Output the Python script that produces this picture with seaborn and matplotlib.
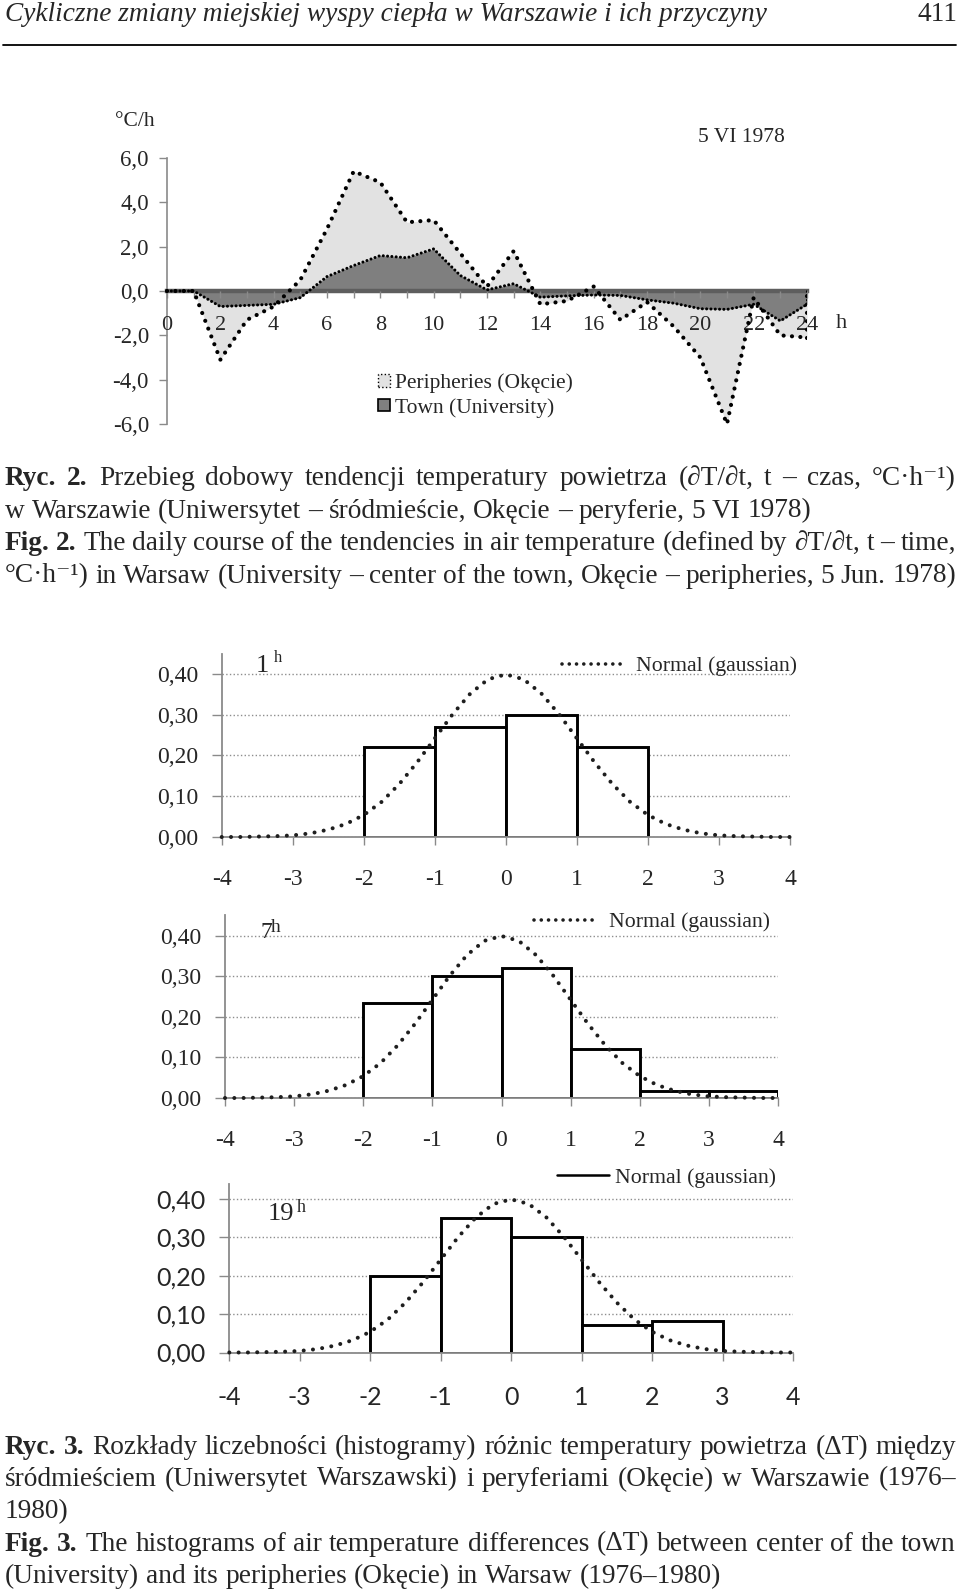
import matplotlib
matplotlib.use("Agg")
import matplotlib.pyplot as plt
import seaborn as sns
from matplotlib.patches import Patch
from matplotlib.lines import Line2D

# ---------------- data ----------------
hours = list(range(25))
peripheries = [0.0, 0.0, -3.1, -1.3, -0.7, 0.5, 2.8, 5.4, 4.9, 3.1, 3.2, 1.7, 0.2,
               1.8, -0.6, -0.45, 0.2, -1.3, -0.5, -1.6, -3.0, -6.0, -0.3, -2.0, -2.1]
town = [0.0, 0.0, -0.7, -0.65, -0.6, -0.3, 0.65, 1.15, 1.6, 1.5, 1.9, 0.7, 0.05,
        0.33, -0.28, -0.22, -0.18, -0.2, -0.4, -0.55, -0.8, -0.83, -0.6, -1.35, -0.6]
top_yticks = [-6, -4, -2, 0, 2, 4, 6]
top_ytick_labels = ["-6,0", "-4,0", "-2,0", "0,0", "2,0", "4,0", "6,0"]
top_xticks = list(range(0, 25, 2))
top_xtick_labels = [str(h) for h in top_xticks]
top_legend_labels = ["Peripheries (Okęcie)", "Town (University)"]

h1_left = [-2, -1, 0, 1]
h1_freq = [0.22, 0.27, 0.30, 0.22]
h7_left = [-2, -1, 0, 1, 2, 3]
h7_freq = [0.235, 0.30, 0.32, 0.12, 0.018, 0.018]
h19_left = [-2, -1, 0, 1, 2]
h19_freq = [0.20, 0.35, 0.30, 0.072, 0.082]

gauss_x = [-4.0, -3.75, -3.5, -3.25, -3.0, -2.75, -2.5, -2.25, -2.0, -1.75, -1.5,
           -1.25, -1.0, -0.75, -0.5, -0.25, 0.0, 0.25, 0.5, 0.75, 1.0, 1.25, 1.5,
           1.75, 2.0, 2.25, 2.5, 2.75, 3.0, 3.25, 3.5, 3.75, 4.0]
gauss_y = [0.000, 0.000, 0.001, 0.002, 0.004, 0.009, 0.018, 0.032, 0.054, 0.086, 0.130,
           0.183, 0.242, 0.301, 0.352, 0.387, 0.399, 0.387, 0.352, 0.301, 0.242, 0.183, 0.130,
           0.086, 0.054, 0.032, 0.018, 0.009, 0.004, 0.002, 0.001, 0.000, 0.000]
hist_yticks = [0.0, 0.1, 0.2, 0.3, 0.4]
hist_ytick_labels = ["0,00", "0,10", "0,20", "0,30", "0,40"]
hist_xticks = [-4, -3, -2, -1, 0, 1, 2, 3, 4]
hist_xtick_labels = ["-4", "-3", "-2", "-1", "0", "1", "2", "3", "4"]
hist_titles = ["1", "7", "19"]
normal_label = "Normal (gaussian)"

header_title = "Cykliczne zmiany miejskiej wyspy ciepła w Warszawie i ich przyczyny"
page_number = "411"
caption2 = [
    [("Ryc. 2.", "bold"), ("Przebieg dobowy tendencji temperatury powietrza (∂T/∂t, t – czas, °C·h⁻¹)", "normal")],
    [("w Warszawie (Uniwersytet – śródmieście, Okęcie – peryferie, 5 VI 1978)", "normal")],
    [("Fig. 2.", "bold"), ("The daily course of the tendencies in air temperature (defined by ∂T/∂t, t – time,", "normal")],
    [("°C·h⁻¹) in Warsaw (University – center of the town, Okęcie – peripheries, 5 Jun. 1978)", "normal")],
]
caption3 = [
    [("Ryc. 3.", "bold"), ("Rozkłady liczebności (histogramy) różnic temperatury powietrza (ΔT) między", "normal")],
    [("śródmieściem (Uniwersytet Warszawski) i peryferiami (Okęcie) w Warszawie (1976–", "normal")],
    [("1980)", "normal")],
    [("Fig. 3.", "bold"), ("The histograms of air temperature differences (ΔT) between center of the town", "normal")],
    [("(University) and its peripheries (Okęcie) in Warsaw (1976–1980)", "normal")],
]

# ---------------- style ----------------
sns.set_style("white")
SERIF = ["Liberation Serif", "DejaVu Serif"]
SANS = ["Lato", "DejaVu Sans"]
plt.rcParams["font.family"] = SERIF

W, H = 960, 1595
fig = plt.figure(figsize=(W / 100, H / 100), dpi=100)
fig.patch.set_facecolor("white")


def add_ax(l, r, t, b):
    return fig.add_axes([l / W, 1 - b / H, (r - l) / W, (b - t) / H])


def ftext(x, y, s, **kw):
    return fig.text(x / W, 1 - y / H, s, **kw)


LIGHT = "#e2e2e2"
DARK = "#7f7f7f"
AXC = "#8a8a8a"
DOTS = (0, (0.01, 2.0))

# ---------------- top chart ----------------
ax = add_ax(167, 807, 158, 424)
ax.set_axisbelow(False)
ax.fill_between(hours, 0, peripheries, color=LIGHT, lw=0, zorder=1)
ax.fill_between(hours, 0, town, color=DARK, lw=0, zorder=1.1)
sns.lineplot(x=hours, y=peripheries, ax=ax, color="black", lw=3.0, linestyle=DOTS,
             dash_capstyle="round", zorder=3, clip_on=False)
ax.plot([hours[-1], hours[-1]], [peripheries[-1], 0], color="black", lw=3.0,
        linestyle=DOTS, dash_capstyle="round", zorder=3)
sns.lineplot(x=hours, y=town, ax=ax, color="black", lw=2.2, linestyle=(0, (0.01, 1.4)),
             dash_capstyle="round", zorder=3.2, clip_on=False)
ax.plot([hours[-1], hours[-1]], [town[-1], 0], color="black", lw=2.2,
        linestyle=(0, (0.01, 1.4)), dash_capstyle="round", zorder=3.2)
ax.set_xlim(0, 24)
ax.set_ylim(-6, 6)
ax.set_xlabel("")
ax.set_ylabel("")
for s in ["top", "right"]:
    ax.spines[s].set_visible(False)
ax.spines["left"].set_color(AXC)
ax.spines["left"].set_linewidth(1.2)
ax.spines["bottom"].set_position(("data", 0))
ax.spines["bottom"].set_color("#5e5e5e")
ax.spines["bottom"].set_linewidth(3.2)
ax.spines["bottom"].set_zorder(2.5)
ax.set_xticks(top_xticks)
ax.set_xticklabels(top_xtick_labels)
ax.set_xticks(list(range(1, 25, 2)), minor=True)
ax.tick_params(axis="x", which="both", direction="out", length=5, width=1, color=AXC,
               pad=13, labelsize=16, bottom=True)
ax.set_yticks(top_yticks)
ax.set_yticklabels(top_ytick_labels)
ax.tick_params(axis="y", direction="out", length=6, width=1, color=AXC, pad=7,
               labelsize=16.5, left=True)
ax.xaxis.set_zorder(2.6)
ax.patch.set_alpha(0)

ftext(135, 122, "°C/h", fontsize=15.5, ha="center", va="center")
ftext(741, 137, "5 VI 1978", fontsize=15.5, ha="center", va="center")
ftext(841, 323, "h", fontsize=16, ha="center", va="center")

handles = [Patch(facecolor=LIGHT, edgecolor="black", linestyle=":", linewidth=1.0),
           Patch(facecolor=DARK, edgecolor="black", linewidth=1.2)]
ax.legend(handles, top_legend_labels, loc="center left",
          bbox_to_anchor=(378 / W, 1 - 395.5 / H), bbox_transform=fig.transFigure,
          frameon=False, fontsize=15.5, handlelength=0.55, handleheight=0.55,
          handletextpad=0.25, labelspacing=0.22, borderpad=0, borderaxespad=0)

# ---------------- histograms ----------------
panels = [
    dict(l=221.7, r=790, t=653.6, b=837, ymax=0.45, leg_x=562, leg_y=666, leg_len=2.8,
         leg_pad=0.6, solid=False, lab_family=SERIF, lab_size=17, xpad=17, ypad=10,
         title_xy=(262, 666), title_size=19, h_xy=(278, 658), h_size=12,
         left_edges=h1_left, freqs=h1_freq, title=hist_titles[0]),
    dict(l=225, r=778, t=915.3, b=1098, ymax=0.45, leg_x=534, leg_y=922, leg_len=2.8,
         leg_pad=0.65, solid=False, lab_family=SERIF, lab_size=17, xpad=17, ypad=10,
         title_xy=(266.5, 932), title_size=17, h_xy=(276, 928), h_size=14,
         left_edges=h7_left, freqs=h7_freq, title=hist_titles[1]),
    dict(l=229.3, r=793, t=1183.6, b=1352.5, ymax=0.44, leg_x=557, leg_y=1177.6, leg_len=2.4,
         leg_pad=0.25, solid=True, lab_family=SANS, lab_size=18, xpad=18, ypad=10,
         title_xy=(280.7, 1214), title_size=19, h_xy=(301, 1207), h_size=13,
         left_edges=h19_left, freqs=h19_freq, title=hist_titles[2]),
]

for p in panels:
    hx = add_ax(p["l"], p["r"], p["t"], p["b"])
    edges = list(p["left_edges"]) + [p["left_edges"][-1] + 1]
    centers = [e + 0.5 for e in p["left_edges"]]
    sns.histplot(x=centers, weights=p["freqs"], bins=edges, ax=hx, color="white",
                 edgecolor="black", linewidth=2.1, alpha=1, zorder=2)
    sns.lineplot(x=gauss_x, y=gauss_y, ax=hx, color="#1e1e1e", lw=2.9,
                 linestyle=(0, (0.01, 2.3)), dash_capstyle="round", zorder=3, clip_on=False)
    hx.set_xlim(-4, 4)
    hx.set_ylim(0, p["ymax"])
    hx.set_xlabel("")
    hx.set_ylabel("")
    hx.set_axisbelow(True)
    hx.yaxis.grid(True, linestyle=":", color="#8e8e8e", linewidth=1.0)
    hx.xaxis.grid(False)
    for s in ["top", "right"]:
        hx.spines[s].set_visible(False)
    for s in ["left", "bottom"]:
        hx.spines[s].set_color(AXC)
        hx.spines[s].set_linewidth(1.3)
        hx.spines[s].set_zorder(2.5)
    hx.set_xticks(hist_xticks)
    hx.set_xticklabels(hist_xtick_labels, family=p["lab_family"], fontsize=p["lab_size"])
    hx.set_yticks(hist_yticks)
    hx.set_yticklabels(hist_ytick_labels, family=p["lab_family"], fontsize=p["lab_size"])
    hx.tick_params(axis="x", direction="out", length=6, width=1, color=AXC, pad=p["xpad"],
                   bottom=True)
    hx.tick_params(axis="y", direction="out", length=7, width=1, color=AXC, pad=p["ypad"],
                   left=True)
    hx.patch.set_alpha(0)
    if p["solid"]:
        lh = Line2D([], [], color="black", lw=1.8)
    else:
        lh = Line2D([], [], color="#1e1e1e", lw=2.6, linestyle=(0, (0.01, 2.0)),
                    dash_capstyle="round")
    hx.legend([lh], [normal_label], loc="center left",
              bbox_to_anchor=(p["leg_x"] / W, 1 - p["leg_y"] / H),
              bbox_transform=fig.transFigure, frameon=False, fontsize=15.7,
              handlelength=p["leg_len"], handletextpad=p["leg_pad"], borderpad=0,
              borderaxespad=0)
    ftext(p["title_xy"][0], p["title_xy"][1], p["title"], fontsize=p["title_size"],
          ha="center", va="center")
    ftext(p["h_xy"][0], p["h_xy"][1], "h", fontsize=p["h_size"], ha="center", va="center")

# ---------------- page text ----------------
renderer = fig.canvas.get_renderer()


def width_of(s, size, weight="normal", style="normal"):
    t = fig.text(0, 0, s, fontsize=size, family=SERIF, weight=weight, style=style)
    w = t.get_window_extent(renderer).width
    t.remove()
    return w


hsize = 18 * 763 / width_of(header_title, 18, style="italic")
ftext(5, 21, header_title, fontsize=hsize, style="italic", ha="left", va="baseline")
ftext(957, 21, page_number, fontsize=hsize, ha="right", va="baseline")
fig.add_artist(Line2D([3 / W, 956 / W], [1 - 44.7 / H] * 2, color="black", lw=1.3))

csize = 18 * 805 / width_of(caption2[1][0][0], 18)
em = csize / 72 * 100
space_w = width_of("a a", csize) - width_of("aa", csize)


def draw_line(yc, segs, justify, x0=5, x1=956):
    words = []
    for text, wt in segs:
        for w in text.split(" "):
            if w:
                words.append((w, wt))
    ybase = yc + 0.33 * em
    arts = [ftext(0, ybase, w, fontsize=csize, weight=wt, ha="left", va="baseline")
            for w, wt in words]
    widths = [a.get_window_extent(renderer).width for a in arts]
    gap = space_w
    if justify and len(arts) > 1:
        gap = (x1 - x0 - sum(widths)) / (len(arts) - 1)
    x = x0
    for a, w in zip(arts, widths):
        a.set_x(x / W)
        x += w + gap


for yc, segs, just in zip([476, 508.5, 541, 573.5], caption2, [True, False, True, True]):
    draw_line(yc, segs, just)
for yc, segs, just in zip([1445, 1476.5, 1509, 1541.6, 1574], caption3,
                          [True, True, False, True, False]):
    draw_line(yc, segs, just)

fig.savefig("out.png", dpi=100, facecolor="white")
